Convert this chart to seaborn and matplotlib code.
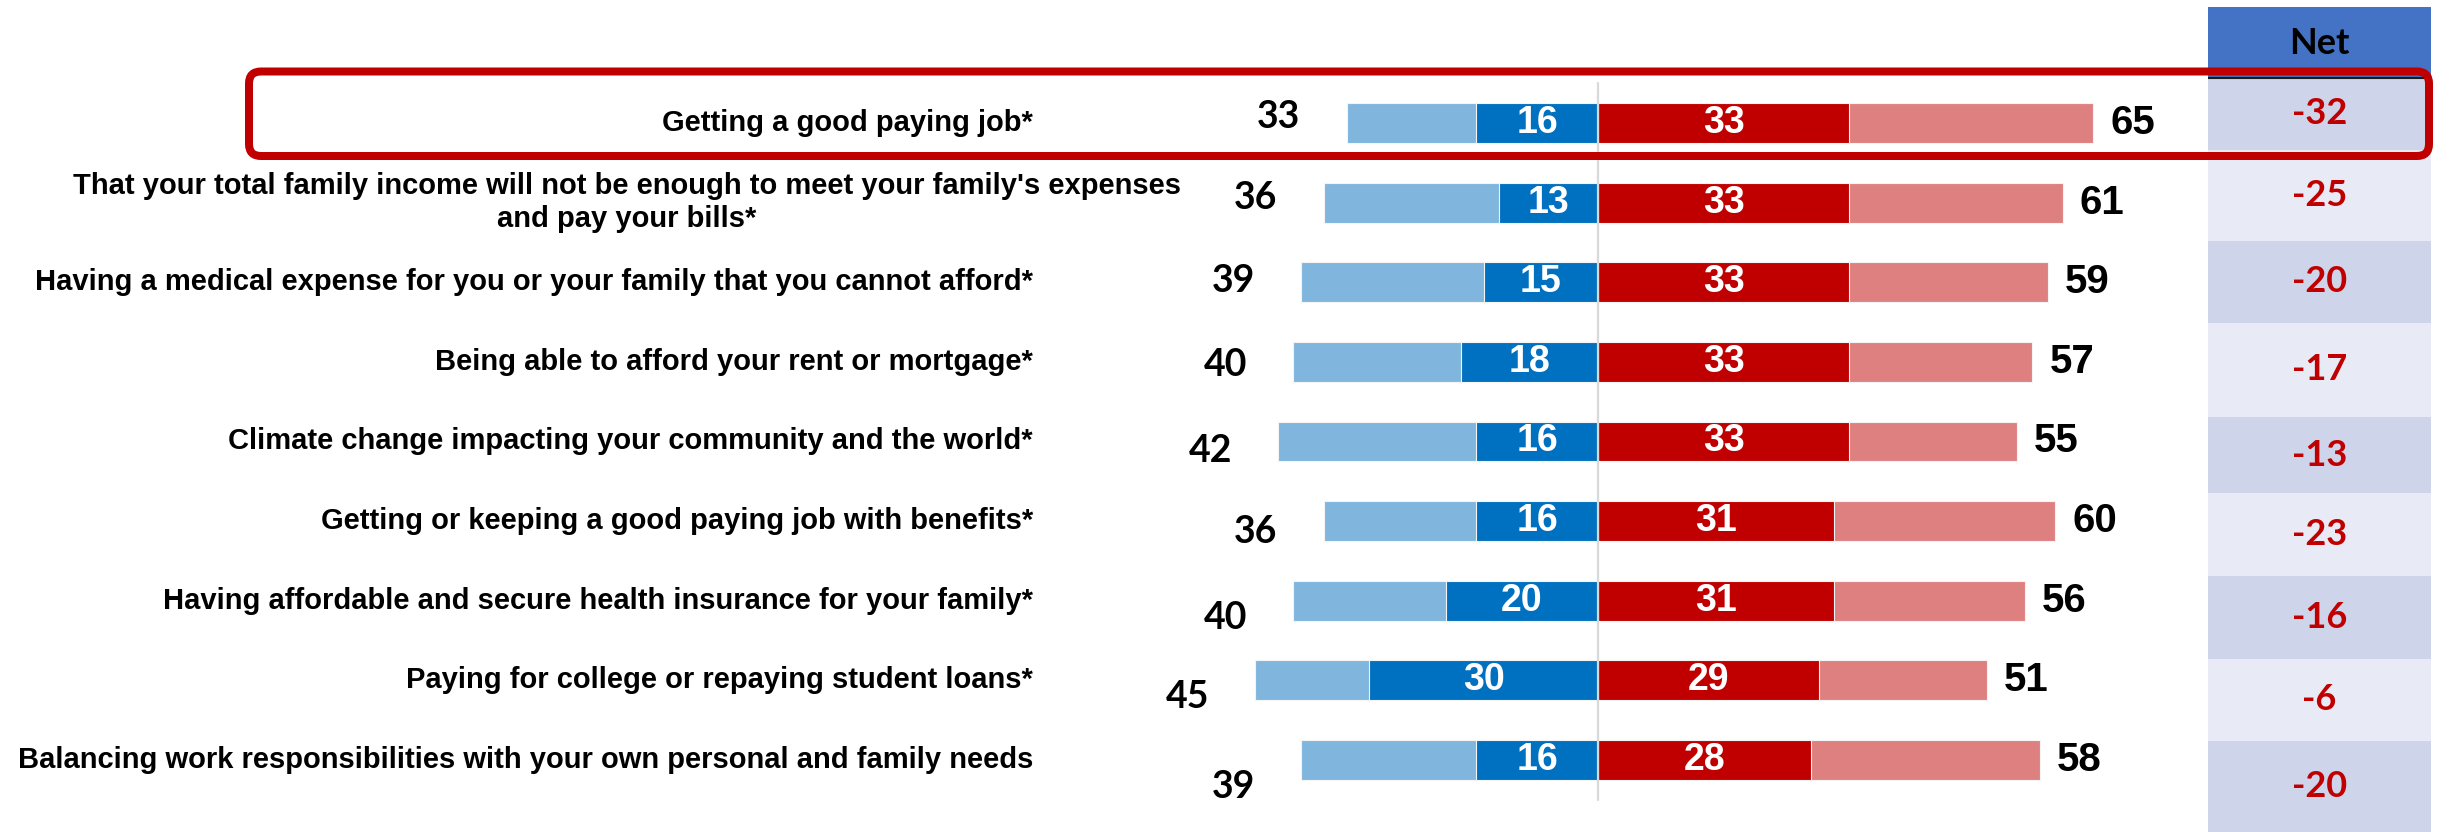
import numpy as np
import pandas as pd
import seaborn as sns
import matplotlib.pyplot as plt
from matplotlib.patches import FancyBboxPatch

# ---- data -------------------------------------------------------------
items = [
    "Getting a good paying job*",
    "That your total family income will not be enough to meet your family's expenses\nand pay your bills*",
    "Having a medical expense for you or your family that you cannot afford*",
    "Being able to afford your rent or mortgage*",
    "Climate change impacting your community and the world*",
    "Getting or keeping a good paying job with benefits*",
    "Having affordable and secure health insurance for your family*",
    "Paying for college or repaying student loans*",
    "Balancing work responsibilities with your own personal and family needs",
]
left_total = [33, 36, 39, 40, 42, 36, 40, 45, 39]
left_strong = [16, 13, 15, 18, 16, 16, 20, 30, 16]
right_strong = [33, 33, 33, 33, 33, 31, 31, 29, 28]
right_total = [65, 61, 59, 57, 55, 60, 56, 51, 58]
net_values = [-32, -25, -20, -17, -13, -23, -16, -6, -20]
net_header = "Net"

# ---- layout (pixels of the 2450 x 832 canvas) --------------------------
W_PX, H_PX = 2450, 832
CENTER_PX = 1598          # x of the zero line
PX_PER_UNIT = 7.62        # horizontal scale of the bars
ROW0_PX = 123             # y of the first bar centre
ROW_STEP_PX = 79.6        # distance between bar centres
label_right_px = [1033, 1181, 1033, 1033, 1033, 1033, 1033, 1033, 1033]
left_label_dy_px = [-6, -5, -1, 3, 10, 11, 17, 17, 27]
LEFT_GAP_PX = 46
RIGHT_GAP_PX = 17
NET_X0_PX, NET_X1_PX = 2208, 2431
NET_HEADER_TOP_PX, NET_HEADER_BOTTOM_PX = 7, 78
net_cell_edges_px = [78, 150, 241, 323, 417, 493, 576, 659, 741, 832]

C_LIGHT_BLUE = "#80B6DE"
C_DARK_BLUE = "#0070C0"
C_DARK_RED = "#C00000"
C_LIGHT_RED = "#DF8080"
C_HEADER = "#4472C4"
C_CELL_DARK = "#CED4E9"
C_CELL_LIGHT = "#E8EAF5"

ARIAL = "Liberation Sans"
CALIBRI = "Lato"

sns.set_theme(style="white")
plt.rcParams["font.family"] = [ARIAL, "DejaVu Sans"]

df = pd.DataFrame({
    "item": items,
    "left_total": -np.array(left_total),
    "left_strong": -np.array(left_strong),
    "right_strong": right_strong,
    "right_total": right_total,
})

fig = plt.figure(figsize=(W_PX / 100, H_PX / 100), dpi=100)
ax = fig.add_axes([0, 0, 1, 1])

bar_kw = dict(data=df, y="item", orient="h", width=0.5, ax=ax, saturation=1,
              edgecolor="#F4F4F4", linewidth=0.8)
sns.barplot(x="left_total", color=C_LIGHT_BLUE, **bar_kw)
sns.barplot(x="left_strong", color=C_DARK_BLUE, **bar_kw)
sns.barplot(x="right_total", color=C_LIGHT_RED, **bar_kw)
sns.barplot(x="right_strong", color=C_DARK_RED, **bar_kw)

ax.set_xlim(-CENTER_PX / PX_PER_UNIT, (W_PX - CENTER_PX) / PX_PER_UNIT)
ax.set_ylim((H_PX - ROW0_PX) / ROW_STEP_PX, -ROW0_PX / ROW_STEP_PX)
ax.axis("off")

def px_to_x(px):
    return (px - CENTER_PX) / PX_PER_UNIT

def px_to_y(px):
    return (px - ROW0_PX) / ROW_STEP_PX

# zero line
ax.plot([0, 0], [px_to_y(83), px_to_y(800)], color="#D9D9D9", lw=1.6, zorder=5)

for i, label in enumerate(items):
    ax.text(px_to_x(label_right_px[i]), i, label, ha="right", va="center",
            multialignment="center", fontsize=21, fontweight="bold",
            family=ARIAL, color="black", linespacing=1.25)
    # totals outside the bars
    ax.text(-left_total[i] - LEFT_GAP_PX / PX_PER_UNIT,
            i + left_label_dy_px[i] / ROW_STEP_PX, f"{left_total[i]}",
            ha="right", va="center", fontsize=27, fontweight="bold",
            family=CALIBRI, color="black")
    ax.text(right_total[i] + RIGHT_GAP_PX / PX_PER_UNIT, i, f"{right_total[i]}",
            ha="left", va="center", fontsize=29, fontweight="bold",
            family=ARIAL, color="black")
    # strong shares inside the dark segments
    ax.text(-left_strong[i] / 2, i, f"{left_strong[i]}", ha="center",
            va="center", fontsize=27, fontweight="bold", family=ARIAL,
            color="white", zorder=6)
    ax.text(right_strong[i] / 2, i, f"{right_strong[i]}", ha="center",
            va="center", fontsize=27, fontweight="bold", family=ARIAL,
            color="white", zorder=6)

# ---- net column --------------------------------------------------------
ax_net = fig.add_axes([NET_X0_PX / W_PX, 0, (NET_X1_PX - NET_X0_PX) / W_PX, 1])
ax_net.set_xlim(0, 1)
ax_net.set_ylim(H_PX, 0)
ax_net.axis("off")

edges = np.array(net_cell_edges_px, dtype=float)
centers = (edges[:-1] + edges[1:]) / 2
heights = np.diff(edges)
cell_colors = [C_CELL_DARK if k % 2 == 0 else C_CELL_LIGHT for k in range(len(net_values))]
ax_net.barh(centers, 1, height=heights, left=0, color=cell_colors, linewidth=0)
ax_net.barh((NET_HEADER_TOP_PX + NET_HEADER_BOTTOM_PX) / 2, 1,
            height=NET_HEADER_BOTTOM_PX - NET_HEADER_TOP_PX, left=0,
            color=C_HEADER, linewidth=0)
ax_net.plot([0, 1], [NET_HEADER_BOTTOM_PX, NET_HEADER_BOTTOM_PX],
            color="#1A1A1A", lw=1.5)
ax_net.text(0.5, 43, net_header, ha="center", va="center", fontsize=26,
            fontweight="bold", family=CALIBRI, color="black")
for k, v in enumerate(net_values):
    ax_net.text(0.5, centers[k], f"{v}", ha="center", va="center",
                fontsize=26, fontweight="bold", family=CALIBRI, color=C_DARK_RED)

# ---- highlight frame around the first item -----------------------------
frame = FancyBboxPatch((249, H_PX - 156), 2429 - 249, 156 - 71.5,
                       boxstyle="round,pad=0,rounding_size=12",
                       transform=None, facecolor="none",
                       edgecolor=C_DARK_RED, linewidth=8 * 0.72, zorder=20)
fig.patches.append(frame)

fig.savefig("out.png", dpi=100, facecolor="white")
